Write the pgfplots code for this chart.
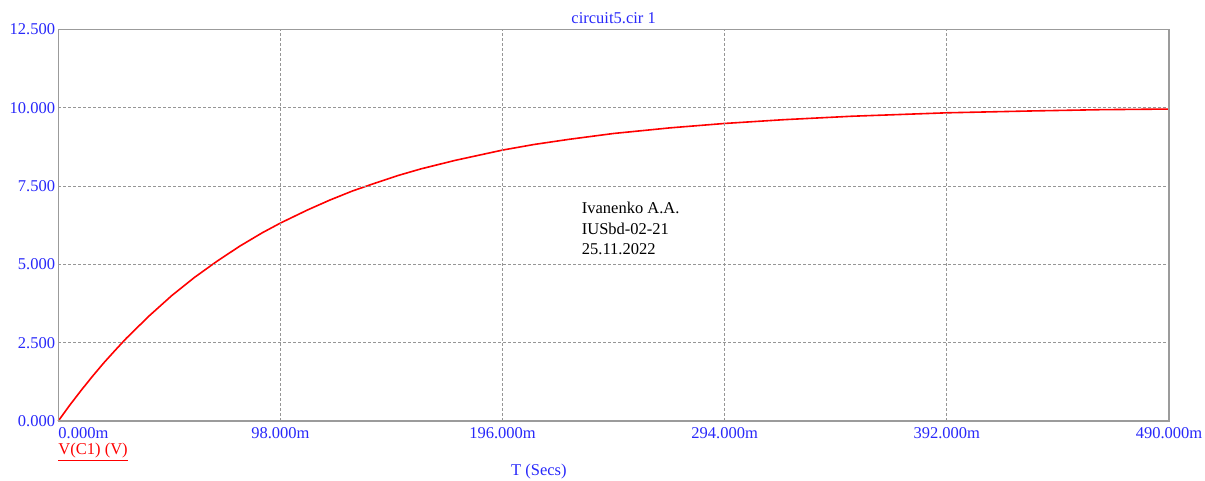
\documentclass[border=0pt]{standalone}
\usepackage{fontspec}
\setmainfont{Liberation Serif}
\usepackage{pgfplots}
\pgfplotsset{compat=1.18}
\definecolor{tblue}{RGB}{40,40,250}
\definecolor{gridgray}{RGB}{150,150,150}
\definecolor{framegray}{RGB}{155,155,155}
\definecolor{vred}{RGB}{255,0,0}
\begin{document}
\begin{tikzpicture}
\useasboundingbox (-58.3pt,-60pt) rectangle (1146.7pt,421pt);
\begin{axis}[
  at={(0pt,0pt)}, anchor=south west,
  scale only axis, width=1110.7pt, height=391.5pt,
  xmin=0, xmax=490, ymin=0, ymax=12.5,
  xtick={98,196,294,392,490},
  xticklabels={98.000m,196.000m,294.000m,392.000m,490.000m},
  extra x ticks={0}, extra x tick labels={0.000m},
  extra x tick style={grid=none, xticklabel style={anchor=north west}},
  ytick={0,2.5,5,7.5,10,12.5},
  yticklabels={0.000,2.500,5.000,7.500,10.000,12.500},
  grid=major,
  major grid style={gridgray, dash pattern=on 3pt off 2pt, line width=0.8pt},
  axis line style={framegray, line width=1.2pt},
  axis on top,
  major tick length=0pt,
  tick label style={font=\fontsize{16.5}{19}\selectfont, text=tblue, inner sep=0pt},
  xticklabel style={anchor=north, yshift=-6pt},
  yticklabel style={anchor=east, xshift=-3pt},
  clip=false,
]
\addplot[vred, line width=1.6pt] coordinates {
(0,0) (5,0.50) (10,0.97) (15,1.42) (20,1.85) (25,2.25) (30,2.64)
(40,3.35) (50,4.00) (60,4.58) (70,5.10) (80,5.58) (90,6.01) (98,6.32)
(110,6.74) (120,7.06) (130,7.35) (140,7.60) (150,7.84) (160,8.05)
(175,8.32) (196,8.65) (210,8.83) (225,8.99) (245,9.18) (270,9.36)
(294,9.50) (320,9.62) (350,9.73) (392,9.84) (430,9.90) (460,9.94) (490,9.96)
};
\node[anchor=base, text=tblue, font=\fontsize{16.5}{19}\selectfont] at (rel axis cs:0.5,1) [yshift=6pt] {circuit5.cir 1};
\end{axis}
\node[anchor=base west, align=left, font=\fontsize{16.5}{20.8}\selectfont, inner sep=0pt] at (523.4pt,166pt) {Ivanenko A.A.\\IUSbd-02-21\\25.11.2022};
\node[anchor=base west, inner sep=0pt, text=vred, font=\fontsize{16.5}{19}\selectfont] at (0pt,-34pt) {\underline{V(C1) (V)}};
\node[anchor=base west, inner sep=0pt, text=tblue, font=\fontsize{16.5}{19}\selectfont] at (452.7pt,-55pt) {T (Secs)};
\end{tikzpicture}
\end{document}
